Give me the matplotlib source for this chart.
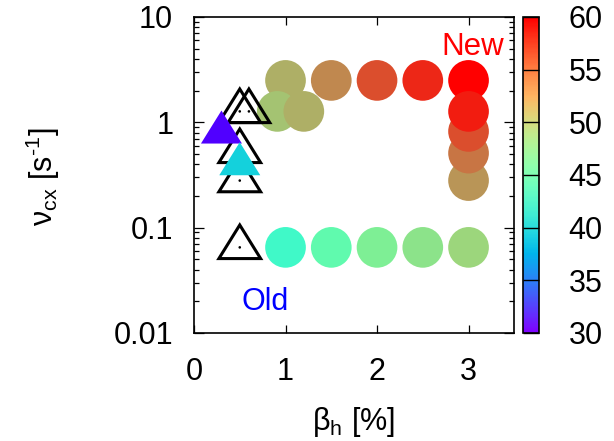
import numpy as np
import matplotlib
matplotlib.use("Agg")
import matplotlib.pyplot as plt
from matplotlib.path import Path
from matplotlib.colors import LinearSegmentedColormap, Normalize
from matplotlib.cm import ScalarMappable
from matplotlib.ticker import LogLocator, NullLocator, NullFormatter

plt.rcParams['font.family'] = ['Liberation Sans', 'DejaVu Sans']
plt.rcParams['mathtext.fontset'] = 'custom'
plt.rcParams['mathtext.rm'] = 'Liberation Sans'
plt.rcParams['mathtext.it'] = 'Liberation Sans:italic'
plt.rcParams['mathtext.default'] = 'regular'

# ---- data -------------------------------------------------------------
# new-device points (circles)
beta_new = [1.0, 1.5, 2.0, 2.5, 3.0, 0.91, 1.2, 3.0, 3.0, 3.0, 3.0,
            1.0, 1.5, 2.0, 2.5, 3.0]
nu_new = [2.5, 2.5, 2.5, 2.5, 2.5, 1.27, 1.27, 0.28, 0.51, 0.82, 1.27,
          0.065, 0.065, 0.065, 0.065, 0.065]
c_new = [51, 53, 56, 58, 60, 50, 51, 52.3, 54, 56, 58.5,
         43, 45, 47, 48, 49]

# old-device points (filled triangles)
beta_old = [0.3, 0.5]
nu_old = [0.8, 0.40]
c_old = [30, 39]

# reference points (open triangles)
beta_ref = [0.5, 0.6, 0.5, 0.5, 0.5]
nu_ref = [1.27, 1.27, 0.53, 0.28, 0.065]

cbar_ticks = [30, 35, 40, 45, 50, 55, 60]
x_ticks = [0, 1, 2, 3]
y_ticks = [0.01, 0.1, 1, 10]
y_ticklabels = ['0.01', '0.1', '1', '10']

# ---- colours ------------------------------------------------------------
vmin, vmax = 30, 60
stops = [(30, (80, 0, 255)), (39, (20, 210, 220)), (43, (65, 250, 200)),
         (45, (95, 250, 175)), (47, (125, 240, 150)), (49, (155, 215, 125)),
         (60, (255, 0, 0))]
point_cmap = LinearSegmentedColormap.from_list(
    'points', [((v - vmin) / (vmax - vmin), tuple(ch / 255 for ch in rgb))
               for v, rgb in stops])
norm = Normalize(vmin, vmax)

# triangle with its centroid at the data point
tri = Path([(0, 22), (-20.5, -11), (20.5, -11), (0, 22)],
           [Path.MOVETO, Path.LINETO, Path.LINETO, Path.CLOSEPOLY])

W, H = 614, 441
fig = plt.figure(figsize=(W / 100, H / 100), dpi=100)
ax = fig.add_axes([194 / W, 1 - 333 / H, (514.3 - 194) / W, (333 - 17) / H])

ax.scatter(beta_new, nu_new, c=c_new, cmap=point_cmap, norm=norm,
           s=858, marker='o', edgecolors='none', zorder=2)
ax.scatter(beta_ref, nu_ref, marker=tri, s=1040, facecolors='none',
           edgecolors='black', linewidths=2.2, joinstyle='miter', zorder=3)
ax.scatter(beta_ref, nu_ref, marker='o', s=3.5, color='black',
           edgecolors='none', zorder=3)
ax.scatter(beta_old, nu_old, c=c_old, cmap=point_cmap, norm=norm,
           marker=tri, s=1004, edgecolors='none', zorder=4)

ax.text(2.70, 4.36, 'New', color='red', fontsize=22.5, ha='left', va='baseline')
ax.text(0.52, 0.0164, 'Old', color='blue', fontsize=22, ha='left', va='baseline')

ax.set_yscale('log')
ax.set_xlim(0, 3.5)
ax.set_ylim(0.01, 10)
ax.set_xticks(x_ticks)
ax.set_xticklabels([str(t) for t in x_ticks])
ax.xaxis.set_minor_locator(NullLocator())
ax.set_yticks(y_ticks)
ax.set_yticklabels(y_ticklabels)
ax.yaxis.set_minor_locator(LogLocator(base=10, subs=np.arange(2, 10)))
ax.yaxis.set_minor_formatter(NullFormatter())

ax.tick_params(which='both', direction='in', top=True, right=True,
               labelsize=22, width=0.9, color='black')
ax.tick_params(axis='x', which='major', length=5.8, pad=17)
ax.tick_params(axis='y', which='major', length=7.2, pad=15)
ax.tick_params(axis='y', which='minor', length=3.6)
for sp in ax.spines.values():
    sp.set_linewidth(1.2)

fig.text(42.5 / W, 1 - 176.5 / H, r'$\mathregular{ν_{cx}\ [s^{‐1}]}$',
         rotation=90, ha='center', va='center', fontsize=22)
fig.text(354 / W, 1 - 422 / H, r'$\mathregular{β_{h}\ [\%]}$',
         ha='center', va='center', fontsize=22)

# colour scale
cax = fig.add_axes([523 / W, 1 - 333 / H, 15.5 / W, 316 / H])
sm = ScalarMappable(norm=norm, cmap='rainbow')
cb = fig.colorbar(sm, cax=cax, ticks=cbar_ticks)
cb.outline.set_linewidth(1.2)
cb.ax.minorticks_off()
cb.ax.tick_params(direction='in', length=11.2, width=1.0, labelsize=22,
                  pad=21.6, color='black')

fig.savefig('out.png', dpi=100)
